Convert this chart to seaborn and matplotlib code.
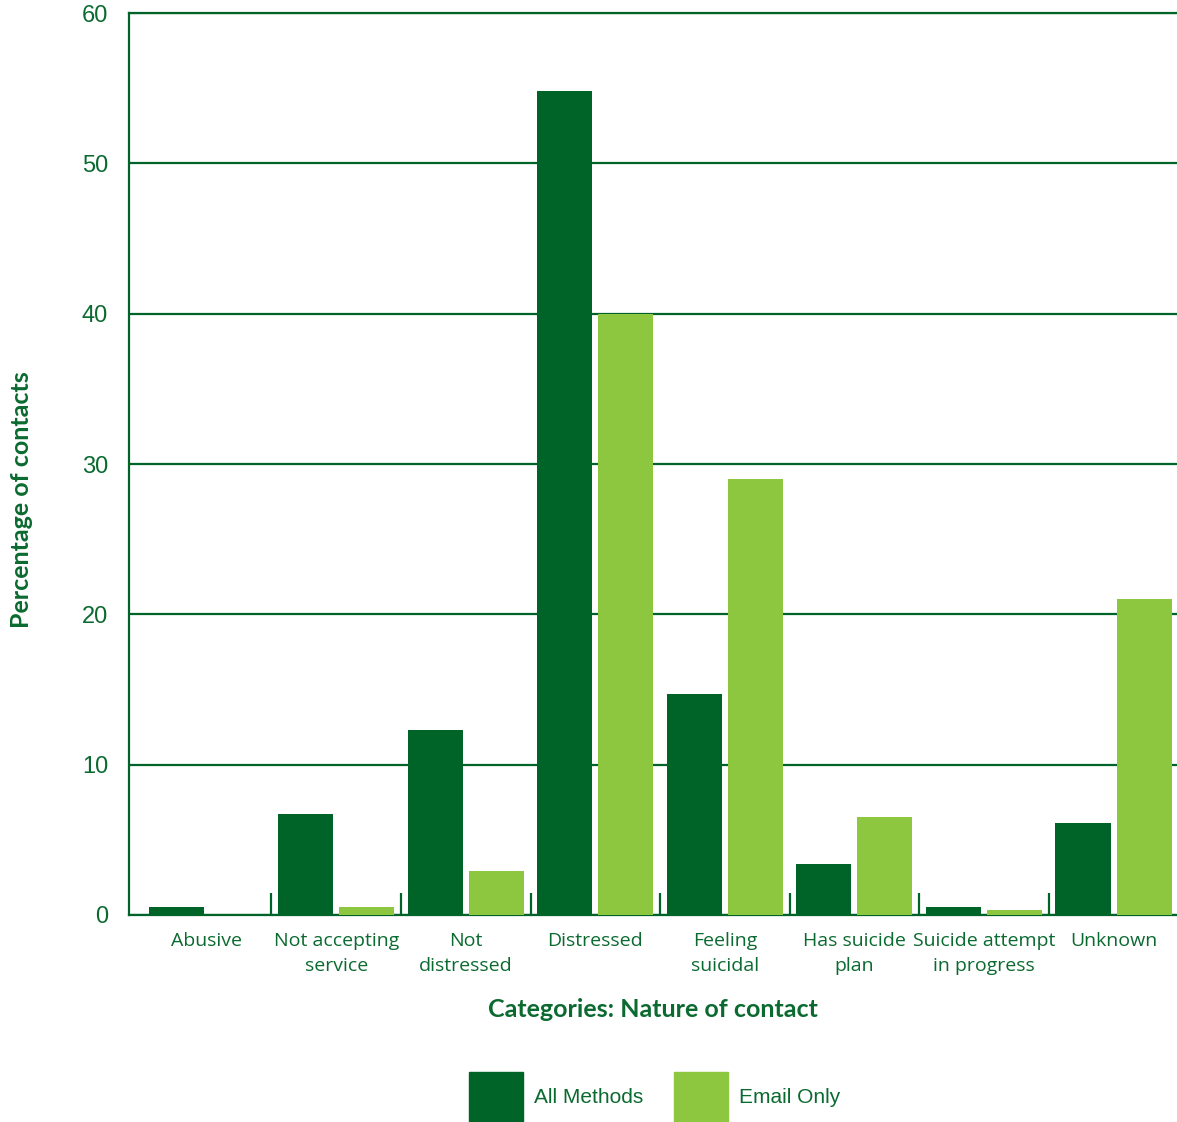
import matplotlib
matplotlib.use("Agg")
import matplotlib.pyplot as plt
import pandas as pd
import seaborn as sns
from matplotlib.ticker import FixedLocator

categories = ["Abusive", "Not accepting\nservice", "Not\ndistressed", "Distressed",
              "Feeling\nsuicidal", "Has suicide\nplan", "Suicide attempt\nin progress", "Unknown"]
all_methods = [0.5, 6.7, 12.3, 54.8, 14.7, 3.4, 0.55, 6.1]
email_only = [0.0, 0.5, 2.9, 40.0, 29.0, 6.5, 0.3, 21.0]
series = ["All Methods", "Email Only"]

dark = "#006428"
light = "#8DC63F"
text_green = "#0b6a30"

df = pd.DataFrame({
    "category": categories * 2,
    "value": all_methods + email_only,
    "series": [series[0]] * len(categories) + [series[1]] * len(categories),
})

sns.set_style("white")
plt.rcParams["font.family"] = ["Liberation Sans", "DejaVu Sans"]

fig = plt.figure(figsize=(11.77, 11.22), dpi=100)
ax = fig.add_axes([0.1096, 0.1845, 0.8904, 0.8039])

sns.barplot(data=df, x="category", y="value", hue="series", order=categories,
            hue_order=series, palette=[dark, light], width=0.942, gap=0.098,
            saturation=1, linewidth=0, ax=ax, legend=False, zorder=3)

ax.set_xlim(-0.6, 7.49)
ax.set_ylim(0, 60)
ax.set_yticks(range(0, 61, 10))
ax.yaxis.grid(True, color=dark, linewidth=1.6, zorder=0)
ax.set_axisbelow(True)

for side in ["left", "bottom", "top"]:
    ax.spines[side].set_color(dark)
    ax.spines[side].set_linewidth(1.6)
ax.spines["right"].set_visible(False)

ax.tick_params(axis="y", length=0, pad=15, labelsize=17, labelcolor=text_green)
ax.tick_params(axis="x", length=0, pad=12, labelsize=14, labelcolor=text_green)
for lab in ax.get_xticklabels():
    lab.set_fontfamily("Open Sans")
    lab.set_linespacing(1.5)

# little separators between the categories
ax.xaxis.set_minor_locator(FixedLocator([i + 0.5 for i in range(len(categories) - 1)]))
ax.tick_params(axis="x", which="minor", bottom=True, direction="in", length=16,
               width=1.6, color=dark)

ax.set_xlabel("Categories: Nature of contact", fontsize=18, fontweight="bold",
              color=text_green, family="Lato", labelpad=17)
ax.set_ylabel("Percentage of contacts", fontsize=18, fontweight="bold",
              color=text_green, family="Lato", labelpad=10)
ax.yaxis.set_label_coords(-0.092, 0.46)

handles = [plt.Rectangle((0, 0), 1, 1, color=c) for c in [dark, light]]
leg = fig.legend(handles, series, loc="upper center", bbox_to_anchor=(0.556, 0.0535),
                 ncol=2, frameon=False, fontsize=15, handlelength=2.6, handleheight=3.32,
                 handletextpad=0.5, columnspacing=1.5, borderpad=0)
for t in leg.get_texts():
    t.set_color(text_green)

fig.savefig("out.png", dpi=100)
